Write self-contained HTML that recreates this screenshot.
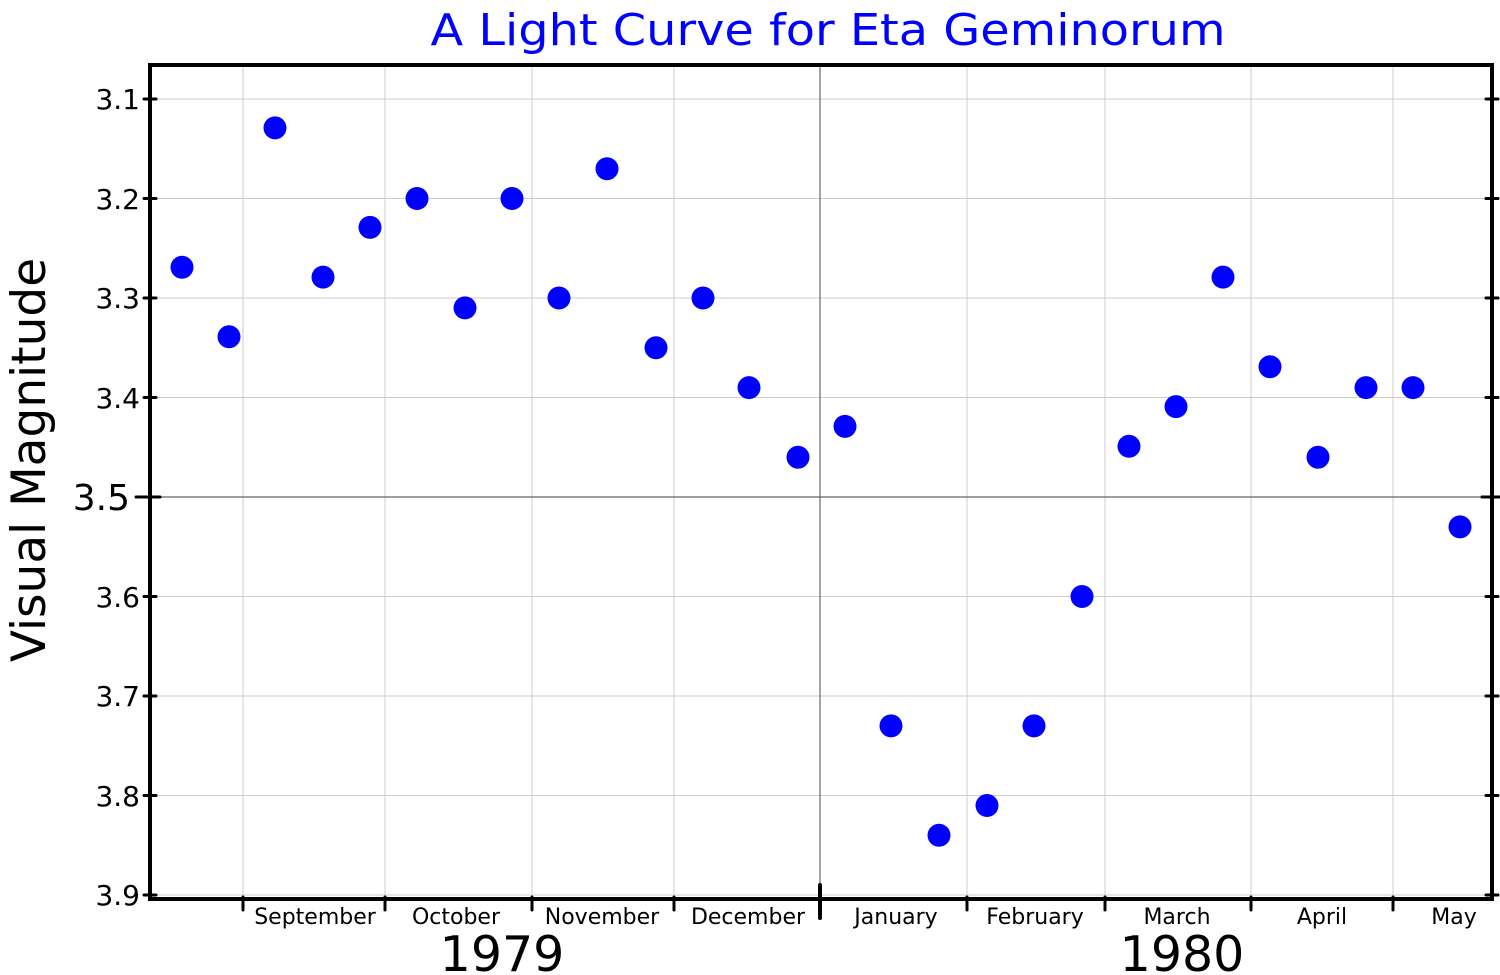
<!DOCTYPE html>
<html><head><style>body{margin:0;background:#fff}svg{display:block}text{font-family:"DejaVu Sans","Liberation Sans",sans-serif}</style></head>
<body>
<svg width="1500" height="975" xmlns="http://www.w3.org/2000/svg">
<text x="828" y="45" font-size="44" fill="#0000ff" text-anchor="middle" textLength="795" lengthAdjust="spacingAndGlyphs">A Light Curve for Eta Geminorum</text>
<g stroke="#cccccc" stroke-width="1">
<line x1="150" x2="1492" y1="99" y2="99"/><line x1="150" x2="1492" y1="198.5" y2="198.5"/><line x1="150" x2="1492" y1="298" y2="298"/><line x1="150" x2="1492" y1="397.5" y2="397.5"/><line x1="150" x2="1492" y1="596.5" y2="596.5"/><line x1="150" x2="1492" y1="696" y2="696"/><line x1="150" x2="1492" y1="795.5" y2="795.5"/><line x1="150" x2="1492" y1="895" y2="895"/>
<line x1="243" x2="243" y1="65" y2="899"/><line x1="385" x2="385" y1="65" y2="899"/><line x1="532" x2="532" y1="65" y2="899"/><line x1="674" x2="674" y1="65" y2="899"/><line x1="967" x2="967" y1="65" y2="899"/><line x1="1105" x2="1105" y1="65" y2="899"/><line x1="1251" x2="1251" y1="65" y2="899"/><line x1="1393" x2="1393" y1="65" y2="899"/>
</g>
<line x1="150" x2="1492" y1="497" y2="497" stroke="#666" stroke-width="1.2"/>
<line x1="820" x2="820" y1="65" y2="899" stroke="#666" stroke-width="1.2"/>
<rect x="150" y="65" width="1342" height="834" fill="none" stroke="#000" stroke-width="4"/>
<g stroke="#000" stroke-width="3" stroke-linecap="round">
<line x1="144" x2="156" y1="99" y2="99"/><line x1="144" x2="156" y1="198.5" y2="198.5"/><line x1="144" x2="156" y1="298" y2="298"/><line x1="144" x2="156" y1="397.5" y2="397.5"/><line x1="136" x2="160" y1="497" y2="497"/><line x1="144" x2="156" y1="596.5" y2="596.5"/><line x1="144" x2="156" y1="696" y2="696"/><line x1="144" x2="156" y1="795.5" y2="795.5"/><line x1="144" x2="156" y1="895" y2="895"/>
<line x1="1486" x2="1498" y1="99" y2="99"/><line x1="1486" x2="1498" y1="198.5" y2="198.5"/><line x1="1486" x2="1498" y1="298" y2="298"/><line x1="1486" x2="1498" y1="397.5" y2="397.5"/><line x1="1482" x2="1500" y1="497" y2="497"/><line x1="1486" x2="1498" y1="596.5" y2="596.5"/><line x1="1486" x2="1498" y1="696" y2="696"/><line x1="1486" x2="1498" y1="795.5" y2="795.5"/><line x1="1486" x2="1498" y1="895" y2="895"/>
<line x1="243" x2="243" y1="897" y2="910"/><line x1="385" x2="385" y1="897" y2="910"/><line x1="532" x2="532" y1="897" y2="910"/><line x1="674" x2="674" y1="897" y2="910"/><line x1="967" x2="967" y1="897" y2="910"/><line x1="1105" x2="1105" y1="897" y2="910"/><line x1="1251" x2="1251" y1="897" y2="910"/><line x1="1393" x2="1393" y1="897" y2="910"/>
<line x1="820" x2="820" y1="885" y2="918" stroke-width="4"/>
</g>
<g font-size="28" text-anchor="end" fill="#000">
<text x="140" y="109">3.1</text><text x="140" y="209">3.2</text><text x="140" y="308">3.3</text><text x="140" y="408">3.4</text><text x="130" y="510" font-size="36">3.5</text><text x="140" y="607">3.6</text><text x="140" y="706">3.7</text><text x="140" y="806">3.8</text><text x="140" y="905">3.9</text>
</g>
<g font-size="22" text-anchor="middle" fill="#000">
<text x="315" y="924">September</text><text x="456" y="924">October</text><text x="602" y="924">November</text><text x="748" y="924">December</text><text x="896" y="924">January</text><text x="1035" y="924">February</text><text x="1177" y="924">March</text><text x="1322" y="924">April</text><text x="1454" y="924">May</text>
</g>
<text x="502" y="971" font-size="49" text-anchor="middle">1979</text>
<text x="1182" y="971" font-size="49" text-anchor="middle">1980</text>
<text transform="translate(45,460) rotate(-90)" font-size="47" text-anchor="middle">Visual Magnitude</text>
<g fill="#0000ff">
<circle cx="182" cy="267.2" r="11.5"/><circle cx="229" cy="336.8" r="11.5"/><circle cx="275" cy="127.9" r="11.5"/><circle cx="323" cy="277.1" r="11.5"/><circle cx="370" cy="227.4" r="11.5"/><circle cx="417" cy="198.5" r="11.5"/><circle cx="465" cy="307.9" r="11.5"/><circle cx="512" cy="198.5" r="11.5"/><circle cx="559" cy="298" r="11.5"/><circle cx="607" cy="168.7" r="11.5"/><circle cx="656" cy="347.8" r="11.5"/><circle cx="703" cy="298" r="11.5"/><circle cx="749" cy="387.6" r="11.5"/><circle cx="798" cy="457.2" r="11.5"/><circle cx="845" cy="426.4" r="11.5"/><circle cx="891" cy="725.9" r="11.5"/><circle cx="939" cy="835.3" r="11.5"/><circle cx="987" cy="805.5" r="11.5"/><circle cx="1034" cy="725.9" r="11.5"/><circle cx="1082" cy="596.5" r="11.5"/><circle cx="1129" cy="446.3" r="11.5"/><circle cx="1176" cy="406.6" r="11.5"/><circle cx="1223" cy="277.1" r="11.5"/><circle cx="1270" cy="366.7" r="11.5"/><circle cx="1318" cy="457.2" r="11.5"/><circle cx="1366" cy="387.6" r="11.5"/><circle cx="1413" cy="387.6" r="11.5"/><circle cx="1460" cy="526.9" r="11.5"/>
</g>
</svg>
</body></html>
